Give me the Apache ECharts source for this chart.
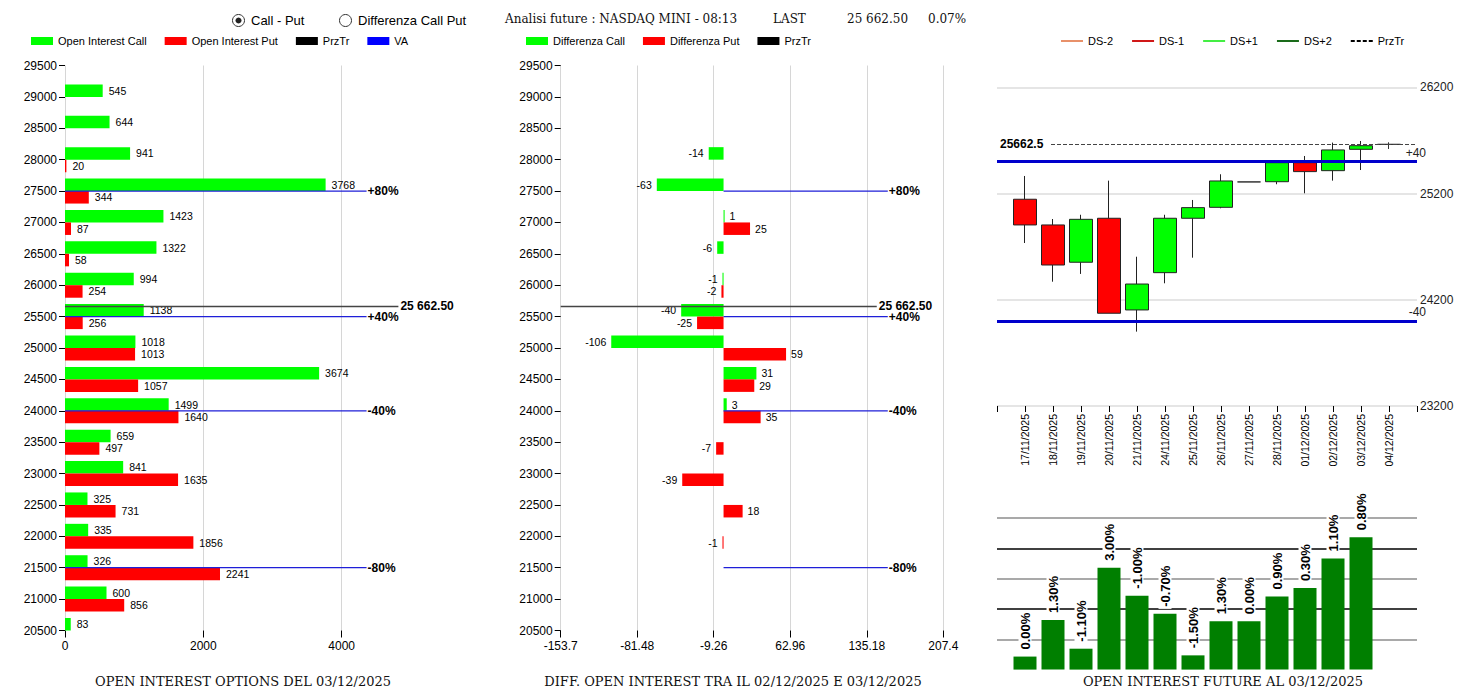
<!DOCTYPE html>
<html><head><meta charset="utf-8">
<script src="https://cdn.jsdelivr.net/npm/echarts@6/dist/echarts.min.js"></script>
<style>html,body{margin:0;padding:0;background:#fff;}#c{width:1459px;height:695px;}</style>
</head><body><div id="c"></div>
<script>
// ---------- DATA ----------
const strikes = ['20500','21000','21500','22000','22500','23000','23500','24000','24500','25000','25500','26000','26500','27000','27500','28000','28500','29000','29500'];
const oiCall = [83, 600, 326, 335, 325, 841, 659, 1499, 3674, 1018, 1138, 994, 1322, 1423, 3768, 941, 644, 545, null];
const oiPut  = [null, 856, 2241, 1856, 731, 1635, 497, 1640, 1057, 1013, 256, 254, 58, 87, 344, 20, null, null, null];
const diffCall = [null, null, null, null, null, null, null, 3, 31, -106, -40, -1, -6, 1, -63, -14, null, null, null];
const diffPut  = [null, null, null, -1, 18, -39, -7, 35, 29, 59, -25, -2, null, 25, null, null, null, null, null];
const vaLevels = [{name:'+80%', strike:27500}, {name:'+40%', strike:25500}, {name:'-40%', strike:24000}, {name:'-80%', strike:21500}];
const przTr = 25662.5;
const lastChange = '0.07%';
const optTicks = [0, 2000, 4000];
const diffTicks = [-153.7, -81.48, -9.26, 62.96, 135.18, 207.4];
const optLineEnds = {va: 4360, prz: 4820};
const diffLineEnds = {va: 155, prz: 144.6};

const dates = ['17/11/2025','18/11/2025','19/11/2025','20/11/2025','21/11/2025','24/11/2025','25/11/2025','26/11/2025','27/11/2025','28/11/2025','01/12/2025','02/12/2025','03/12/2025','04/12/2025'];
// [open, close, low, high]
const candles = [
  [25146, 24904, 24734, 25365],
  [24904, 24527, 24370, 24960],
  [24553, 24957, 24443, 25000],
  [24967, 24073, 24073, 25321],
  [24104, 24348, 23900, 24605],
  [24455, 24967, 24355, 25000],
  [24967, 25067, 24596, 25139],
  [25070, 25318, 25061, 25381],
  [25309, 25309, 25309, 25309],
  [25311, 25490, 25287, 25490],
  [25490, 25406, 25202, 25553],
  [25415, 25610, 25321, 25679],
  [25616, 25650, 25421, 25694],
  [25662.5, 25662.5, 25619, 25682]
];
const candleBands = [{name:'+40', value:25500}, {name:'-40', value:24000}];
const candleTicks = [23200, 24200, 25200, 26200];
const oiFuture = [0.43, 1.64, 0.69, 3.36, 2.44, 1.84, 0.47, 1.60, 1.60, 2.41, 2.69, 3.67, 4.37, null];
const oiFutureChg = ['0.00%','1.30%','-1.10%','3.00%','-1.00%','-0.70%','-1.50%','1.30%','0.00%','0.90%','0.30%','1.10%','0.80%',''];
const oiFutureTicks = [1, 2, 3, 4, 5];

// ---------- BUILD ----------
const fmtSpace = v => v.toFixed(2).replace(/\B(?=(\d{3})+(?!\d))/g, ' ');
const FONT = '"Liberation Sans", Arial, sans-serif';
const SERIF = '"DejaVu Serif", serif';
const dateCats = [''].concat(dates, ['']);
const candleData = [['-','-','-','-']].concat(candles, [['-','-','-','-']]);
const futData = ['-'].concat(oiFuture.map(v => v == null ? '-' : v), ['-']);

const barLabel = {show: true, position: 'right', distance: 6, fontSize: 10.5, color: '#000', fontFamily: FONT};
const diffItems = arr => arr.map(v => v == null ? null : {value: v, label: {position: v < 0 ? 'left' : 'right'}});
const endLabel = (text, dist) => ({show: true, position: 'right', distance: dist, formatter: text,
  fontWeight: 'bold', fontSize: 12, color: '#000', fontFamily: FONT});

// segments as line-series data, broken by empty points
function vaSegments(end) {
  const out = [];
  vaLevels.forEach(l => {
    out.push({value: [0, l.strike]});
    out.push({value: [end, l.strike], label: endLabel(l.name, 1)});
    out.push({value: ['-', '-']});
  });
  return out;
}
function przSegment(start, end) {
  return [{value: [start, przTr]}, {value: [end, przTr], label: endLabel(fmtSpace(przTr), 2)}];
}
function lineSeries(name, x, y, data, color, lineColor, width) {
  return {name: name, type: 'line', xAxisIndex: x, yAxisIndex: y, data: data, connectNulls: false,
          symbol: 'circle', symbolSize: 0, showSymbol: true, silent: true, z: 5,
          itemStyle: {color: color}, lineStyle: {color: lineColor, width: width, type: 'solid'},
          label: {show: false}};
}

function valueX(grid, min, max, ticks) {
  return {
    type: 'value', gridIndex: grid, min: min, max: max,
    axisLine: {show: false, onZero: false},
    axisTick: {show: true, customValues: ticks, length: 7, lineStyle: {color: '#000'}},
    axisLabel: {customValues: ticks, formatter: v => String(+(+v).toFixed(2)), fontSize: 12, color: '#000', margin: 9},
    splitLine: {show: true, lineStyle: {color: '#d6d6d6'}}
  };
}
function catY(grid) {
  return {
    type: 'category', gridIndex: grid, data: strikes, boundaryGap: false,
    axisLine: {show: false, onZero: false},
    axisTick: {show: true, length: 6, interval: 0, lineStyle: {color: '#000'}},
    axisLabel: {interval: 0, fontSize: 12, color: '#000', margin: 8},
    splitLine: {show: false}
  };
}
function hiddenY(grid) {
  return {type: 'value', gridIndex: grid, min: +strikes[0], max: +strikes[strikes.length - 1], show: false,
          axisLine: {onZero: false}, splitLine: {show: false}};
}

const option = {
  animation: false,
  backgroundColor: '#fff',
  textStyle: {fontFamily: FONT},
  grid: [
    {left: 65, top: 65.5, width: 415, height: 565, containLabel: false, outerBoundsMode: 'none'},
    {left: 560.7, top: 65.5, width: 382.6, height: 565, containLabel: false, outerBoundsMode: 'none'},
    {left: 997, top: 66, width: 420, height: 340, containLabel: false, outerBoundsMode: 'none'},
    {left: 997, top: 503, width: 420, height: 166.6, containLabel: false, outerBoundsMode: 'none'}
  ],
  legend: [
    {left: 31, top: 35.5, padding: 0, itemWidth: 22, itemHeight: 8, itemGap: 18, icon: 'rect', selectedMode: false,
     textStyle: {fontSize: 11, color: '#000'}, data: ['Open Interest Call', 'Open Interest Put', 'PrzTr', 'VA']},
    {left: 526, top: 35.5, padding: 0, itemWidth: 22, itemHeight: 8, itemGap: 18, icon: 'rect', selectedMode: false,
     textStyle: {fontSize: 11, color: '#000'}, data: ['Differenza Call', 'Differenza Put', 'PrzTr']},
    {left: 1060, top: 35.5, padding: 0, itemWidth: 22, itemHeight: 8, itemGap: 18, selectedMode: false,
     itemStyle: {opacity: 0, borderWidth: 0, color: 'rgba(0,0,0,0)'},
     textStyle: {fontSize: 11, color: '#000'}, formatter: n => n.replace('_c', ''),
     data: ['DS-2', 'DS-1', 'DS+1', 'DS+2',
            {name: 'PrzTr_c', lineStyle: {type: [4, 2], width: 2, color: '#000'}}]}
  ],
  xAxis: [
    valueX(0, 0, 6000, optTicks),
    valueX(1, diffTicks[0], diffTicks[diffTicks.length - 1], diffTicks),
    {type: 'category', gridIndex: 2, data: dateCats, boundaryGap: false,
     axisLine: {show: false, onZero: false},
     axisTick: {show: true, length: 6, interval: 0, lineStyle: {color: '#000'}},
     axisLabel: {interval: 0, rotate: 90, fontSize: 10.5, color: '#000', margin: 8},
     splitLine: {show: false}},
    {type: 'category', gridIndex: 3, data: dateCats, boundaryGap: false, show: false,
     axisLine: {show: false, onZero: false}, axisTick: {show: false}, axisLabel: {show: false}, splitLine: {show: false}}
  ],
  yAxis: [
    catY(0), hiddenY(0), catY(1), hiddenY(1),
    {type: 'value', gridIndex: 2, position: 'right', min: 23200, max: 26400,
     axisLine: {show: false, onZero: false},
     axisTick: {show: false, customValues: candleTicks},
     axisLabel: {customValues: candleTicks, formatter: v => String(v), margin: 3, fontSize: 12, color: '#222'},
     splitLine: {show: true, lineStyle: {color: '#dcdcdc', width: 1.5}}},
    {type: 'value', gridIndex: 3, min: 0, max: 5.5,
     axisLine: {show: false, onZero: false},
     axisTick: {show: false, customValues: oiFutureTicks},
     axisLabel: {show: false, customValues: oiFutureTicks},
     splitLine: {show: true, lineStyle: {color: ['#8c8c8c', '#000'], width: 1.5}}}
  ],
  series: [
    {name: 'Open Interest Call', type: 'bar', xAxisIndex: 0, yAxisIndex: 0, data: oiCall, barWidth: 12.5, barGap: '0%',
     itemStyle: {color: '#00ff00'}, label: barLabel},
    {name: 'Open Interest Put', type: 'bar', xAxisIndex: 0, yAxisIndex: 0, data: oiPut, barWidth: 12.5, barGap: '0%',
     itemStyle: {color: '#ff0000'}, label: barLabel},
    lineSeries('PrzTr', 0, 1, przSegment(0, optLineEnds.prz), '#000', '#444', 1.5),
    lineSeries('VA', 0, 1, vaSegments(optLineEnds.va), '#0000ff', '#1f1fd8', 1.2),

    {name: 'Differenza Call', type: 'bar', xAxisIndex: 1, yAxisIndex: 2, data: diffItems(diffCall), barWidth: 12.5, barGap: '0%',
     itemStyle: {color: '#00ff00'}, label: Object.assign({}, barLabel, {distance: 5})},
    {name: 'Differenza Put', type: 'bar', xAxisIndex: 1, yAxisIndex: 2, data: diffItems(diffPut), barWidth: 12.5, barGap: '0%',
     itemStyle: {color: '#ff0000'}, label: Object.assign({}, barLabel, {distance: 5})},
    lineSeries('PrzTr', 1, 3, przSegment(diffTicks[0], diffLineEnds.prz), '#000', '#444', 1.5),
    lineSeries('VA', 1, 3, vaSegments(diffLineEnds.va), '#0000ff', '#1f1fd8', 1.2),

    {name: 'Candles', type: 'candlestick', xAxisIndex: 2, yAxisIndex: 4, data: candleData, barWidth: 23,
     itemStyle: {color: '#00ff00', color0: '#ff0000', borderColor: '#222', borderColor0: '#222', borderColorDoji: '#333', borderWidth: 1}},
    {name: 'DS-2', type: 'line', xAxisIndex: 2, yAxisIndex: 4, data: [], symbol: 'none', itemStyle: {color: '#e8916a'}, lineStyle: {color: '#e8916a', width: 2.5}},
    {name: 'DS-1', type: 'line', xAxisIndex: 2, yAxisIndex: 4, data: [], symbol: 'none', itemStyle: {color: '#d01818'}, lineStyle: {color: '#d01818', width: 2.5}},
    {name: 'DS+1', type: 'line', xAxisIndex: 2, yAxisIndex: 4, data: [], symbol: 'none', itemStyle: {color: '#44ee44'}, lineStyle: {color: '#44ee44', width: 2.5}},
    {name: 'DS+2', type: 'line', xAxisIndex: 2, yAxisIndex: 4, data: [], symbol: 'none', itemStyle: {color: '#1a6b1a'}, lineStyle: {color: '#1a6b1a', width: 2.5}},
    {name: 'VA_c', type: 'line', xAxisIndex: 2, yAxisIndex: 4, data: [], symbol: 'none', itemStyle: {color: '#0000cc'},
     markLine: {symbol: ['none', 'none'], silent: true,
       lineStyle: {color: '#0000cc', width: 3, type: 'solid'},
       label: {position: 'insideEndTop', distance: [-9, 3], formatter: '{b}', fontSize: 12, color: '#222'},
       data: candleBands.map(b => ({yAxis: b.value, name: b.name}))}},
    {name: 'PrzTr_c', type: 'line', xAxisIndex: 2, yAxisIndex: 4, data: [], symbol: 'none', itemStyle: {color: '#000'},
     lineStyle: {color: '#000', width: 2, type: 'dashed'},
     markLine: {symbol: ['none', 'none'], silent: true,
       lineStyle: {color: '#444', width: 1, type: 'dashed'},
       label: {position: 'insideStartTop', distance: [0, 0], verticalAlign: 'middle', formatter: String(przTr),
               fontWeight: 'bold', fontSize: 12, color: '#000', backgroundColor: '#fff', padding: [1, 6, 1, 3]},
       data: [{yAxis: przTr}]}},

    {name: 'OI Future', type: 'bar', xAxisIndex: 3, yAxisIndex: 5, data: futData, barWidth: 23,
     itemStyle: {color: '#007f00'},
     label: {show: true, position: 'top', rotate: 90, align: 'left', verticalAlign: 'middle', distance: 5,
             formatter: p => oiFutureChg[p.dataIndex - 1] || '', fontWeight: 'bold', fontSize: 13, color: '#000',
             backgroundColor: '#fff', padding: [0, 2, 0, 2]}}
  ],
  graphic: [
    {type: 'circle', shape: {cx: 238.5, cy: 20.5, r: 6}, style: {fill: '#fff', stroke: '#333', lineWidth: 1}},
    {type: 'circle', shape: {cx: 238.5, cy: 20.5, r: 3}, style: {fill: '#222'}},
    {type: 'text', x: 251, y: 20.5, style: {text: 'Call - Put', font: '13px ' + FONT, fill: '#000', verticalAlign: 'middle'}},
    {type: 'circle', shape: {cx: 345.5, cy: 20.5, r: 6}, style: {fill: '#fff', stroke: '#333', lineWidth: 1}},
    {type: 'text', x: 358, y: 20.5, style: {text: 'Differenza Call Put', font: '13px ' + FONT, fill: '#000', verticalAlign: 'middle'}},
    {type: 'text', x: 505, y: 18.5, style: {text: 'Analisi future : NASDAQ MINI - 08:13', font: '12px ' + SERIF, fill: '#111', verticalAlign: 'middle'}},
    {type: 'text', x: 773, y: 18.5, style: {text: 'LAST', font: '12px ' + SERIF, fill: '#111', verticalAlign: 'middle'}},
    {type: 'text', x: 847, y: 18.5, style: {text: fmtSpace(przTr), font: '12px ' + SERIF, fill: '#111', verticalAlign: 'middle'}},
    {type: 'text', x: 928, y: 18.5, style: {text: lastChange, font: '12px ' + SERIF, fill: '#111', verticalAlign: 'middle'}},
    {type: 'text', x: 243, y: 681.5, style: {text: 'OPEN INTEREST OPTIONS DEL 03/12/2025', font: '13px ' + SERIF, fill: '#111', align: 'center', verticalAlign: 'middle'}},
    {type: 'text', x: 733, y: 681.5, style: {text: 'DIFF. OPEN INTEREST TRA IL 02/12/2025 E 03/12/2025', font: '13px ' + SERIF, fill: '#111', align: 'center', verticalAlign: 'middle'}},
    {type: 'text', x: 1223, y: 681.5, style: {text: 'OPEN INTEREST FUTURE AL 03/12/2025', font: '13px ' + SERIF, fill: '#111', align: 'center', verticalAlign: 'middle'}}
  ]
};
const chart = echarts.init(document.getElementById('c'), null, {renderer: 'svg', width: 1459, height: 695});
chart.setOption(option);
</script>
</body></html>
